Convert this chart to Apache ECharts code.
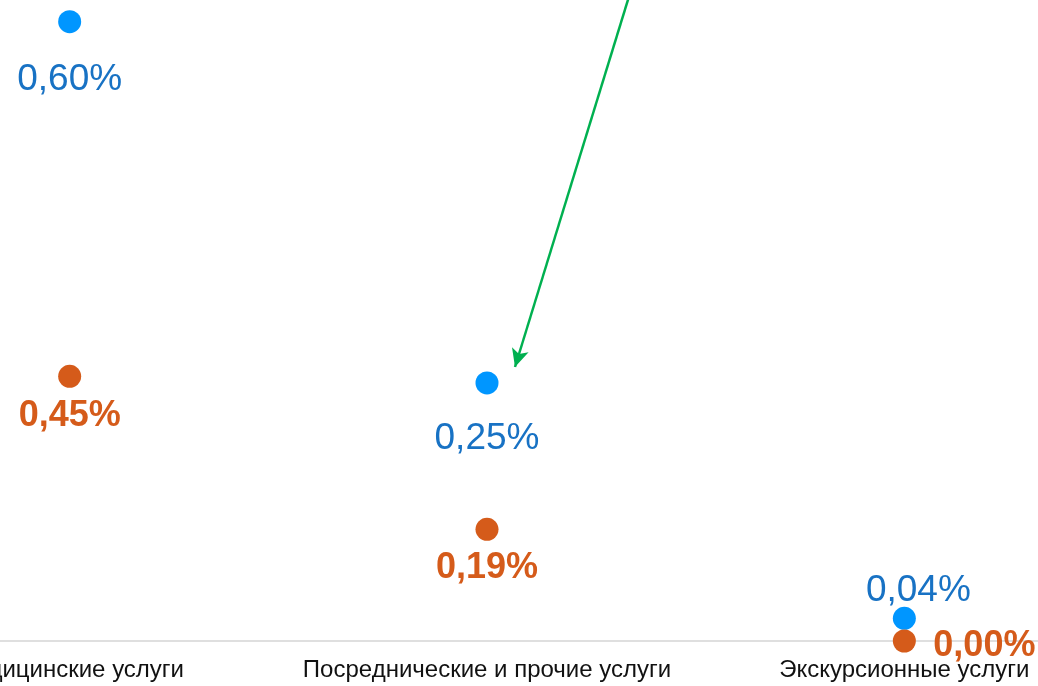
<!DOCTYPE html>
<html>
<head>
<meta charset="utf-8">
<script src="https://cdn.jsdelivr.net/npm/echarts@6/dist/echarts.min.js"></script>
<style>
  html, body { margin: 0; padding: 0; background: #fff; overflow: hidden; width: 1038px; height: 686px; }
  /* график шире окна: первая категория обрезана слева, как на исходнике */
  #main { position: absolute; left: -139px; top: 0; width: 1252px; height: 686px; }
</style>
</head>
<body>
<div id="main"></div>
<script>
  // данные
  var categories = ['Медицинские услуги', 'Посреднические и прочие услуги', 'Экскурсионные услуги'];
  var blueValues = [0.60, 0.25, 0.022];
  var blueLabels = ['0,60%', '0,25%', '0,04%'];
  var orangeValues = [0.45, 0.19, 0.00];
  var orangeLabels = ['0,45%', '0,19%', '0,00%'];

  // смещения подписей (только оформление)
  var blueOffsets = [[0, 58], [0, 56], [14, -27]];
  var orangeOffsets = [[0, 40], [0, 39], [29, 5]];
  var orangeAlign = ['center', 'center', 'left'];

  var fontName = "'Liberation Sans', Arial, sans-serif";
  var myChart = echarts.init(document.getElementById('main'));

  var blueData = blueValues.map(function (v, i) {
    return {
      value: v,
      label: { formatter: blueLabels[i], offset: blueOffsets[i] }
    };
  });
  var orangeData = orangeValues.map(function (v, i) {
    return {
      value: v,
      label: { formatter: orangeLabels[i], offset: orangeOffsets[i], align: orangeAlign[i] }
    };
  });

  var option = {
    animation: false,
    textStyle: { fontFamily: fontName },
    grid: { left: 0, right: 0, top: 0, bottom: 45 },
    xAxis: {
      type: 'category',
      data: categories,
      boundaryGap: true,
      axisLine: { lineStyle: { color: '#d4d4d4', width: 1.5 } },
      axisTick: { show: false },
      axisLabel: { fontSize: 24, color: '#111', margin: 17, interval: 0, fontFamily: fontName }
    },
    yAxis: [
      { type: 'value', min: 0, max: 0.621, show: false, splitLine: { show: false } },
      { type: 'value', min: 0, max: 1.09, show: false, splitLine: { show: false } }
    ],
    series: [
      {
        name: 'blue',
        type: 'scatter',
        yAxisIndex: 0,
        symbolSize: 23,
        itemStyle: { color: '#0096FF', opacity: 1 },
        label: {
          show: true,
          position: 'inside',
          fontSize: 37,
          fontFamily: fontName,
          color: '#1872C4'
        },
        data: blueData,
        markLine: {
          silent: true,
          symbol: ['none', 'arrow'],
          symbolSize: [13, 18],
          label: { show: false },
          lineStyle: { color: '#00B050', width: 2.5, type: 'solid', opacity: 1 },
          data: [[{ x: 770, y: -10 }, { x: 654, y: 367 }]]
        }
      },
      {
        name: 'orange',
        type: 'scatter',
        yAxisIndex: 1,
        symbolSize: 23,
        itemStyle: { color: '#D55B1A', opacity: 1 },
        label: {
          show: true,
          position: 'inside',
          fontSize: 36,
          fontWeight: 'bold',
          fontFamily: fontName,
          color: '#D55B1A'
        },
        data: orangeData
      }
    ]
  };

  myChart.setOption(option);
</script>
</body>
</html>
